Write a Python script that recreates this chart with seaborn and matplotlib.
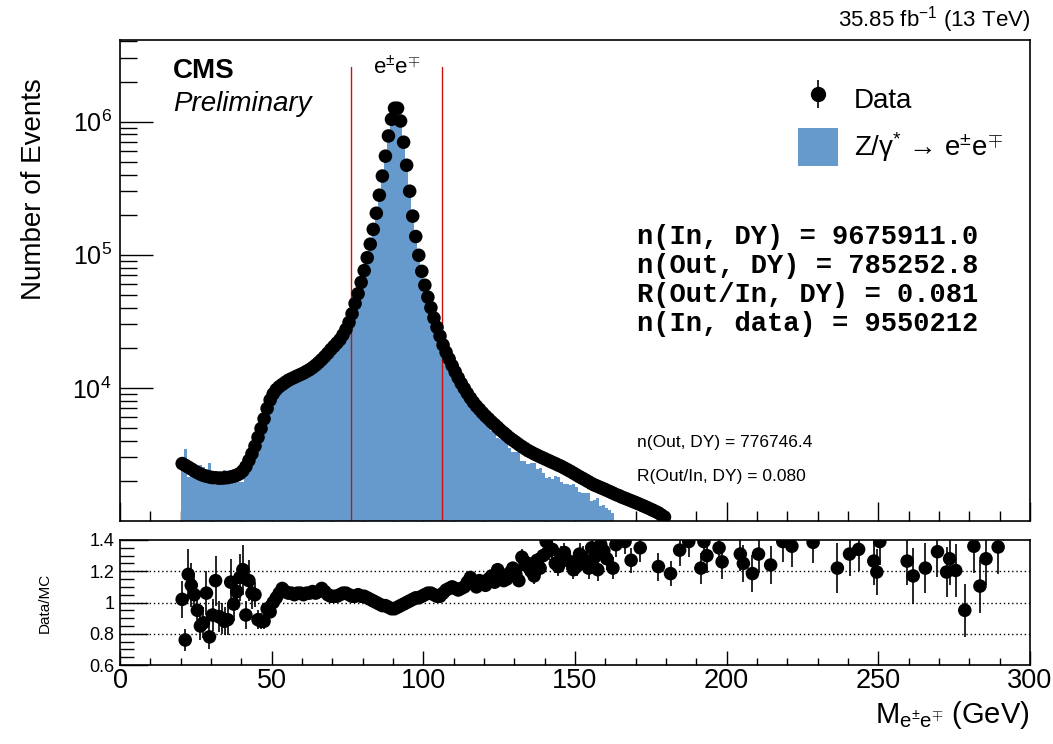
import numpy as np
import pandas as pd
import matplotlib
matplotlib.use("Agg")
import matplotlib.pyplot as plt
from matplotlib.ticker import MultipleLocator, LogLocator, NullFormatter, FixedLocator
from matplotlib.patches import Patch
import seaborn as sns

# ---------------- data ----------------
bin_lo, bin_hi = 20, 180  # 1 GeV bins
data_counts = [
    2700, 2620, 2540, 2460, 2380, 2310, 2250, 2200, 2170, 2140,
    2120, 2110, 2100, 2100, 2110, 2120, 2140, 2170, 2210, 2270,
    2380, 2560, 2850, 3200, 3650, 4250, 4950, 5850, 7000, 8100,
    9000, 9700, 10200, 10600, 11000, 11400, 11700, 12000, 12300, 12600,
    12900, 13300, 13700, 14200, 14800, 15500, 16300, 17200, 18200, 19400,
    20500, 21700, 23000, 25000, 27500, 31000, 36000, 43000, 51000, 62000,
    76000, 95000, 120000, 155000, 205000, 280000, 390000, 550000, 780000, 1040000,
    1260000, 1260000, 1010000, 700000, 470000, 300000, 195000, 137000, 99000, 75000,
    59000, 48000, 40000, 33500, 28500, 24500, 21000, 18500, 16500, 14700,
    13200, 11900, 10800, 9900, 9100, 8400, 7800, 7300, 6900, 6500,
    6150, 5850, 5550, 5300, 5050, 4800, 4600, 4400, 4200, 4050,
    3900, 3750, 3620, 3500, 3380, 3290, 3200, 3120, 3040, 2970,
    2900, 2830, 2760, 2700, 2630, 2570, 2500, 2430, 2360, 2290,
    2220, 2150, 2090, 2030, 1970, 1910, 1860, 1820, 1780, 1740,
    1700, 1660, 1620, 1580, 1550, 1510, 1480, 1450, 1420, 1390,
    1360, 1330, 1300, 1270, 1240, 1210, 1180, 1150, 1110, 1070,
]
mc_counts = [
    2650, 3450, 2150, 2220, 2270, 2430, 2650, 2530, 2050, 2740,
    2300, 1850, 2310, 2330, 2400, 2380, 1890, 2190, 2070, 1960,
    1970, 2780, 2500, 3020, 3480, 4780, 5630, 6650, 7290, 8620,
    9000, 9420, 9620, 9720, 10280, 10750, 11040, 11430, 11600, 11890,
    12290, 12550, 12920, 13270, 13960, 14490, 14950, 16070, 17330, 18650,
    19710, 20870, 21900, 23580, 25940, 29520, 34620, 41350, 48570, 59620,
    73080, 92230, 117650, 153470, 205000, 282830, 397960, 561220, 804120, 1083330,
    1312500, 1298970, 1030610, 707070, 470000, 297030, 191180, 133010, 96120, 72120,
    56190, 45280, 37740, 31900, 27400, 23560, 19810, 17130, 15140, 13360,
    12110, 11020, 9910, 9000, 8050, 7240, 6960, 6640, 6050, 5800,
    5540, 5090, 4740, 4690, 4170, 4140, 4040, 3830, 3530, 3320,
    3310, 3290, 2810, 2820, 2700, 2740, 2740, 2460, 2490, 2280,
    2090, 2130, 2060, 2160, 2140, 1980, 1890, 1910, 1870, 1890,
    1800, 1640, 1620, 1610, 1610, 1410, 1440, 1500, 1300, 1310,
    1250, 1200, 1150, 960, 900, 880, 860, 840, 820, 800,
    780, 760, 740, 720, 700, 680, 660, 640, 620, 600,
]

# Data/MC ratio, 20.5 ... 159.5 GeV (one value per 1 GeV bin)
ratio_low = [
    1.02, 0.76, 1.18, 1.11, 1.05, 0.95, 0.85, 0.87, 1.06, 0.78,
    0.92, 1.14, 0.91, 0.90, 0.88, 0.89, 1.13, 0.99, 1.07, 1.16,
    1.21, 0.92, 1.14, 1.06, 1.05, 0.89, 0.88, 0.88, 0.96, 0.94,
    1.00, 1.03, 1.06, 1.09, 1.07, 1.06, 1.06, 1.05, 1.06, 1.06,
    1.05, 1.06, 1.06, 1.07, 1.06, 1.07, 1.09, 1.07, 1.05, 1.04,
    1.04, 1.04, 1.05, 1.06, 1.06, 1.05, 1.04, 1.04, 1.05, 1.04,
    1.04, 1.03, 1.02, 1.01, 1.00, 0.99, 0.98, 0.98, 0.97, 0.96,
    0.96, 0.97, 0.98, 0.99, 1.00, 1.01, 1.02, 1.03, 1.03, 1.04,
    1.05, 1.06, 1.06, 1.05, 1.04, 1.04, 1.06, 1.08, 1.09, 1.10,
    1.09, 1.08, 1.09, 1.10, 1.13, 1.16, 1.12, 1.10, 1.14, 1.12,
    1.11, 1.15, 1.17, 1.13, 1.21, 1.16, 1.14, 1.15, 1.19, 1.22,
    1.18, 1.14, 1.29, 1.24, 1.25, 1.20, 1.17, 1.27, 1.22, 1.30,
    1.39, 1.33, 1.34, 1.25, 1.23, 1.30, 1.32, 1.27, 1.26, 1.21,
    1.23, 1.31, 1.29, 1.26, 1.22, 1.35, 1.29, 1.21, 1.37, 1.33,
]
ratio_low_err = [
    0.12, 0.07, 0.16, 0.14, 0.13, 0.11, 0.09, 0.10, 0.14, 0.08,
    0.10, 0.16, 0.10, 0.10, 0.09, 0.10, 0.15, 0.11, 0.12, 0.15,
    0.16, 0.09, 0.13, 0.10, 0.08, 0.06, 0.05, 0.05, 0.05, 0.04,
    0.03, 0.02, 0.02, 0.02, 0.01, 0.01, 0.01, 0.01, 0.01, 0.01,
    0.01, 0.01, 0.01, 0.01, 0.01, 0.01, 0.01, 0.01, 0.01, 0.01,
    0.01, 0.01, 0.01, 0.01, 0.01, 0.01, 0.01, 0.01, 0.01, 0.01,
    0.01, 0.01, 0.01, 0.01, 0.01, 0.01, 0.01, 0.01, 0.01, 0.01,
    0.01, 0.01, 0.01, 0.01, 0.01, 0.01, 0.01, 0.01, 0.01, 0.01,
    0.01, 0.01, 0.01, 0.01, 0.01, 0.01, 0.02, 0.02, 0.02, 0.02,
    0.02, 0.02, 0.02, 0.03, 0.03, 0.03, 0.03, 0.03, 0.03, 0.03,
    0.03, 0.03, 0.03, 0.03, 0.04, 0.04, 0.04, 0.04, 0.04, 0.04,
    0.04, 0.04, 0.05, 0.05, 0.05, 0.05, 0.05, 0.05, 0.05, 0.05,
    0.06, 0.06, 0.06, 0.06, 0.06, 0.06, 0.06, 0.06, 0.06, 0.06,
    0.06, 0.07, 0.07, 0.07, 0.07, 0.07, 0.07, 0.07, 0.07, 0.07,
]
# sparse Data/MC points above 160 GeV
ratio_high_mass = [160.5, 162.5, 163.5, 166.5, 168.5, 171.5, 177.5, 181.5, 184.5, 187.5,
                   191.5, 192.5, 193.5, 197.5, 198.5, 204.5, 205.5, 208.5, 210.5, 214.5,
                   218.5, 221.5, 228.5, 236.5, 240.5, 243.5, 248.5, 249.5, 250.5, 259.5,
                   261.5, 265.5, 269.5, 272.5, 273.5, 275.5, 278.5, 281.5, 283.5, 285.5,
                   289.5]
ratio_high = [1.28, 1.22, 1.37, 1.39, 1.27, 1.35, 1.23, 1.185, 1.335, 1.39,
              1.22, 1.39, 1.30, 1.35, 1.26, 1.31, 1.25, 1.185, 1.31, 1.24,
              1.39, 1.36, 1.385, 1.22, 1.31, 1.34, 1.265, 1.195, 1.39, 1.265,
              1.17, 1.22, 1.325, 1.195, 1.28, 1.205, 0.95, 1.36, 1.105, 1.28,
              1.355]
ratio_high_err = [0.07, 0.07, 0.08, 0.08, 0.08, 0.09, 0.09, 0.08, 0.10, 0.10,
                  0.10, 0.10, 0.11, 0.11, 0.11, 0.11, 0.12, 0.12, 0.12, 0.12,
                  0.13, 0.13, 0.13, 0.16, 0.14, 0.14, 0.15, 0.15, 0.15, 0.15,
                  0.18, 0.16, 0.16, 0.16, 0.17, 0.17, 0.17, 0.17, 0.17, 0.17,
                  0.17]

window = [76, 106]
lumi_text = "35.85 fb$^{-1}$ (13 TeV)"
big_text = ["n(In, DY) = 9675911.0", "n(Out, DY) = 785252.8",
            "R(Out/In, DY) = 0.081", "n(In, data) = 9550212"]
small_text = ["n(Out, DY) = 776746.4", "R(Out/In, DY) = 0.080"]

# ---------------- build tables ----------------
edges = [float(e) for e in range(bin_lo, bin_hi + 1)]
centers = [e + 0.5 for e in edges[:-1]]
df = pd.DataFrame({"mass": centers, "data": data_counts, "mc": mc_counts})
rlow = pd.DataFrame({"mass": centers[:len(ratio_low)], "ratio": ratio_low, "err": ratio_low_err})
rhigh = pd.DataFrame({"mass": ratio_high_mass, "ratio": ratio_high, "err": ratio_high_err})
rdf = pd.concat([rlow, rhigh], ignore_index=True)

# ---------------- style ----------------
sns.set_theme(style="white", rc={"xtick.bottom": True, "ytick.left": True})
plt.rcParams["font.family"] = ["Liberation Sans", "DejaVu Sans"]
plt.rcParams["mathtext.fontset"] = "custom"
plt.rcParams["mathtext.rm"] = "Liberation Sans"
plt.rcParams["mathtext.it"] = "Liberation Sans:italic"
plt.rcParams["mathtext.bf"] = "Liberation Sans:bold"
for k in ["text.color", "axes.labelcolor", "xtick.color", "ytick.color", "axes.edgecolor"]:
    plt.rcParams[k] = "black"
plt.rcParams["axes.linewidth"] = 1.2

blue = "#6699cc"
msize = 95
W, H = 1053, 744
fig = plt.figure(figsize=(W / 100, H / 100), dpi=100)
L, R = 120 / W, 1030 / W
ax = fig.add_axes([L, 1 - 521 / H, R - L, (521 - 40) / H])
axr = fig.add_axes([L, 1 - 665 / H, R - L, (665 - 540) / H])

# ---------------- top panel ----------------
sns.histplot(data=df, x="mass", weights="mc", bins=edges, element="step", fill=True,
             color=blue, alpha=1.0, linewidth=0, ax=ax, zorder=1)
sns.scatterplot(data=df, x="mass", y="data", ax=ax, color="black", s=msize,
                edgecolor="none", zorder=3, legend=False)
ax.set_yscale("log")
ax.set_xlim(0, 300)
ax.set_ylim(1000, 4.1e6)
for w in window:
    ax.axvline(w, ymin=0, ymax=0.944, color="#cc1111", lw=1.0, zorder=2)

ax.yaxis.set_major_locator(FixedLocator([1e4, 1e5, 1e6]))
ax.set_yticklabels(["10$^{4}$", "10$^{5}$", "10$^{6}$"], fontsize=18)
ax.yaxis.set_minor_locator(LogLocator(base=10, subs=np.arange(2, 10)))
ax.yaxis.set_minor_formatter(NullFormatter())
ax.xaxis.set_major_locator(MultipleLocator(50))
ax.xaxis.set_minor_locator(MultipleLocator(10))
ax.tick_params(axis="x", which="both", bottom=True, labelbottom=False)
ax.tick_params(axis="y", which="both", left=True)
ax.tick_params(which="major", axis="y", direction="in", length=24, width=1.0, pad=6)
ax.tick_params(which="minor", axis="y", direction="in", length=12, width=1.0)
ax.tick_params(which="major", axis="x", direction="in", length=14, width=1.0)
ax.tick_params(which="minor", axis="x", direction="in", length=7, width=1.0)
ax.set_xlabel("")
ax.set_ylabel("Number of Events", fontsize=20)
ax.yaxis.set_label_coords(-0.08, 0.69)

# texts
ax.text(0.058, 0.935, "CMS", transform=ax.transAxes, fontsize=20, fontweight="bold",
        va="center", ha="left")
ax.text(0.058, 0.867, "Preliminary", transform=ax.transAxes, fontsize=20, style="italic",
        va="center", ha="left")
ax.text(0.304, 0.943, "e$^{\\pm}$e$^{\\mp}$", transform=ax.transAxes, fontsize=16,
        va="center", ha="center")
fig.text(R, 1 - 20 / H, lumi_text, fontsize=16, ha="right", va="center")

for i, t in enumerate(big_text):
    ax.text((637 - 120) / 910, 1 - (237 + 29 * i - 40) / 481, t, transform=ax.transAxes,
            family=["Liberation Mono", "DejaVu Sans Mono"], fontweight="bold",
            fontsize=19.5, va="center", ha="left")
for i, t in enumerate(small_text):
    ax.text((637 - 120) / 910, 1 - (442 + 34 * i - 40) / 481, t, transform=ax.transAxes,
            fontsize=12.5, va="center", ha="left")

# legend
eb = ax.errorbar([], [], yerr=[], fmt="o", color="black", ms=10, elinewidth=1.2)
handles = [eb, Patch(facecolor=blue, edgecolor="none")]
labels = ["Data", "Z/γ$^{*}$ → e$^{\\pm}$e$^{\\mp}$"]
leg = ax.legend(handles, labels, loc="upper left", bbox_to_anchor=(0.733, 0.94),
                frameon=False, fontsize=20, handlelength=1.45, handleheight=1.75,
                labelspacing=0.35, handletextpad=0.55, borderaxespad=0)

# ---------------- ratio panel ----------------
axr.errorbar(rdf["mass"], rdf["ratio"], yerr=rdf["err"], fmt="none", ecolor="black",
             elinewidth=1.2, zorder=2)
sns.scatterplot(data=rdf, x="mass", y="ratio", ax=axr, color="black", s=msize,
                edgecolor="none", zorder=3, legend=False)
for yv in [0.8, 1.0, 1.2]:
    axr.axhline(yv, color="black", lw=1.0, ls=(0, (1, 2)), zorder=1)
axr.set_xlim(0, 300)
axr.set_ylim(0.6, 1.4)
axr.yaxis.set_major_locator(FixedLocator([0.6, 0.8, 1.0, 1.2, 1.4]))
axr.set_yticklabels(["0.6", "0.8", "1", "1.2", "1.4"], fontsize=13)
axr.yaxis.set_minor_locator(MultipleLocator(0.05))
axr.xaxis.set_major_locator(FixedLocator([0, 50, 100, 150, 200, 250, 300]))
axr.set_xticklabels([str(v) for v in [0, 50, 100, 150, 200, 250, 300]], fontsize=19.5)
axr.xaxis.set_minor_locator(MultipleLocator(10))
axr.tick_params(axis="x", which="both", bottom=True)
axr.tick_params(axis="y", which="both", left=True)
axr.tick_params(which="major", axis="y", direction="in", length=20, width=1.0, pad=4)
axr.tick_params(which="minor", axis="y", direction="in", length=10, width=1.0)
axr.tick_params(which="major", axis="x", direction="in", length=10, width=1.0, pad=2)
axr.tick_params(which="minor", axis="x", direction="in", length=5, width=1.0)
axr.set_ylabel("Data/MC", fontsize=11)
axr.yaxis.set_label_coords(-0.075, 0.5)
axr.set_xlabel("")
fig.text(R, 1 - 715 / H, "M$_{\\mathrm{e^{\\pm}e^{\\mp}}}$ (GeV)", fontsize=21,
         ha="right", va="center")

fig.savefig("out.png", dpi=100)
